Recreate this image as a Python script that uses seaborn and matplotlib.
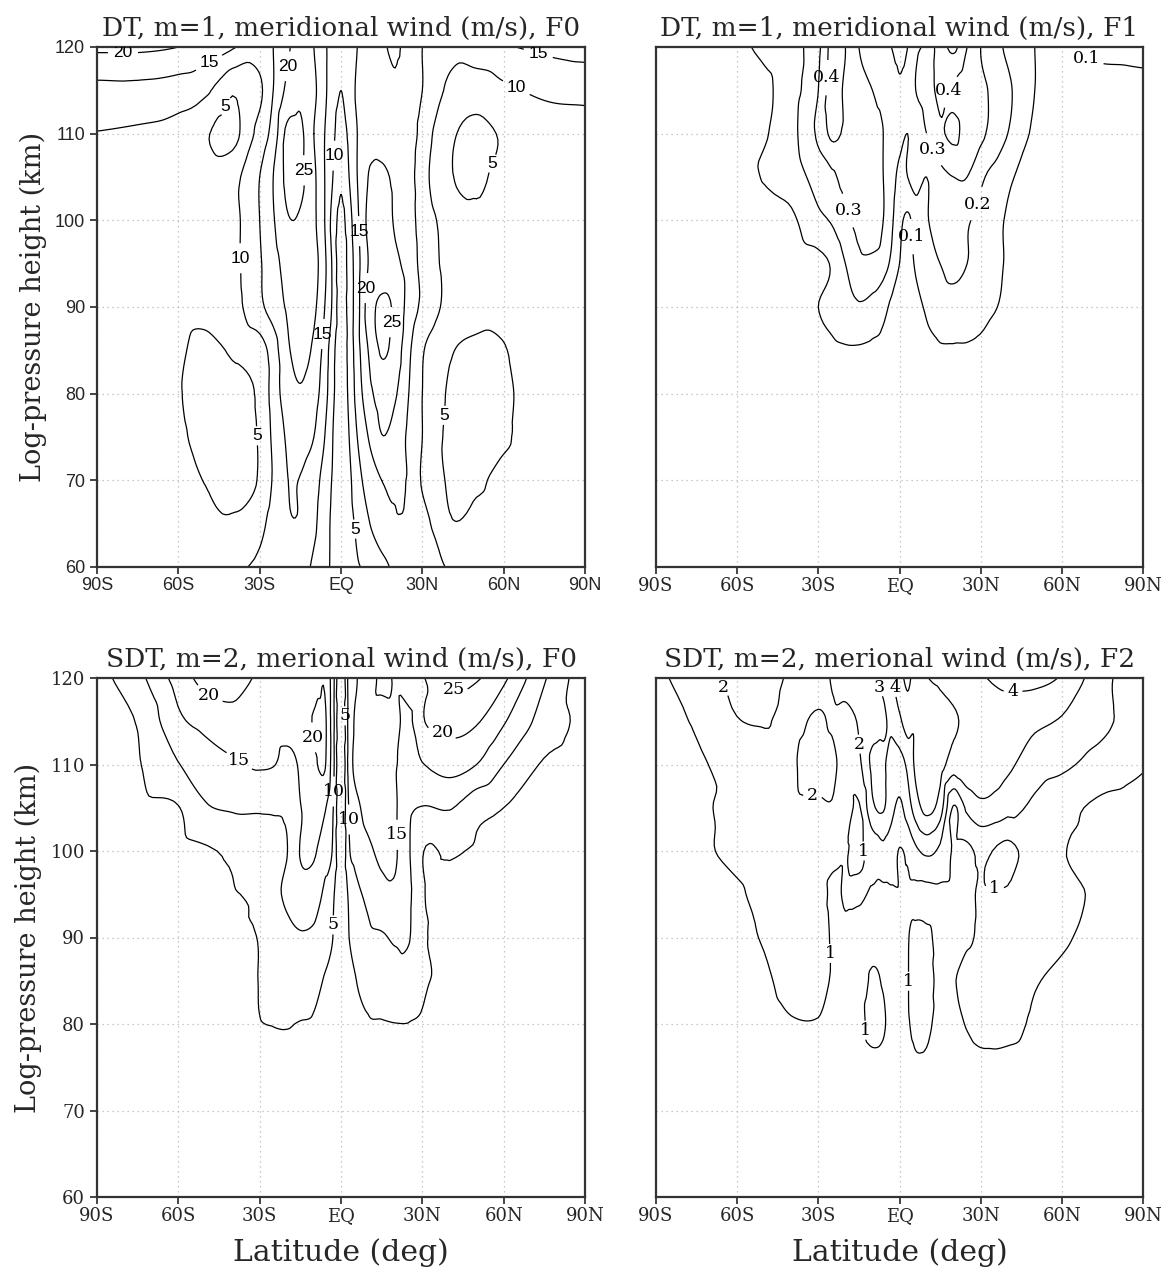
import numpy as np
import matplotlib
matplotlib.use("Agg")
import matplotlib.pyplot as plt
import matplotlib.tri as mtri
import seaborn as sns

# ---------------- data ----------------
lats = [-90, -75, -60, -50, -40, -30, -25, -20, -15, -10, -6, -3, 0,
        3, 6, 10, 15, 20, 25, 30, 40, 50, 60, 75, 90]
heights = [60, 65, 70, 75, 80, 85, 90, 95, 100, 105, 110, 115, 120]

# DT, m=1, meridional wind, F0 (rows: 60 km ... 120 km)
dt_f0 = [
    [7, 7, 7, 7.5, 9, 11, 12, 13, 12.5, 9, 6.5, 4, 2, 3, 4.5, 6, 8.5, 11, 13, 12.5, 9.5, 8, 7, 7, 7],
    [7, 7, 6.5, 6, 5.5, 8.5, 12, 14.5, 14.5, 11, 7, 4, 2, 3.5, 6, 9.5, 13, 14.5, 14.5, 12, 5.5, 6, 6.5, 7, 7],
    [7, 7.5, 6, 4.9, 4, 5.5, 10.5, 14.8, 14.8, 12, 8, 4.5, 2, 4, 8, 12, 15, 15.5, 14.5, 9.5, 4.5, 4.5, 6, 7.5, 7],
    [7, 7.5, 5.5, 4.2, 4, 5.5, 11, 15.5, 17, 15, 10, 5, 2, 5, 10, 15, 19.8, 18, 14, 10, 4, 4, 4.5, 7.5, 7],
    [7, 7.5, 5.2, 4, 4, 6, 12, 17.5, 19.5, 17, 12, 6, 2, 6, 12, 18, 22, 20.5, 15, 10, 4.5, 4, 4.3, 7.5, 7],
    [7, 7.5, 5.5, 4.2, 5.5, 7.5, 12.5, 19, 21.5, 19, 13, 6.5, 2, 6.5, 13, 20, 25.5, 23, 16, 10.5, 5.5, 4.2, 4.8, 7.5, 7],
    [7, 7, 6, 6, 8, 14, 17, 20.5, 23, 21, 15, 9, 2, 7, 13, 22, 26, 24, 18, 14, 8.5, 6.5, 6, 6.5, 7],
    [7, 7, 6, 6, 8.5, 14.5, 18, 22, 24.5, 22, 16, 9, 2, 7, 13, 20, 22, 21, 18, 13.5, 8.5, 6, 6, 7, 7.5],
    [7, 7, 6.5, 6, 8.5, 15, 19.5, 24.5, 24.5, 21, 15, 8, 3.5, 8, 14, 21, 22, 19.5, 17, 13, 8, 5.5, 6, 7, 7.5],
    [7, 7, 7, 7, 8.5, 15, 20, 26, 26, 21, 15, 10, 6, 10, 15, 20, 21, 19, 17, 12, 5.5, 4.5, 6, 7, 7.5],
    [9.8, 9.3, 8.5, 5.5, 3.5, 12, 17, 26, 26, 20, 15, 11, 8, 11, 15, 19, 18, 17, 18, 13, 6, 4, 5.5, 7.5, 8],
    [13.5, 13.5, 12.5, 11, 5.5, 9, 15, 21, 24, 21, 16, 12, 10, 12, 16, 19, 17, 16, 18, 15, 9, 7, 9, 11, 11.5],
    [21, 21, 20, 18, 15.5, 13, 15, 19, 22, 20, 16, 12, 10, 12, 15, 18, 16, 14, 17, 15, 12, 13.5, 14.5, 16, 17],
]

# DT, m=1, meridional wind, F1
dt_f1 = [
    [0] * 25,
    [0] * 25,
    [0] * 25,
    [0, 0, 0, 0, 0, 0.01, 0.02, 0.02, 0.02, 0.02, 0.02, 0.01, 0.01, 0.01, 0.01, 0.02, 0.02, 0.02, 0.02, 0.02, 0.01, 0, 0, 0, 0],
    [0, 0, 0, 0, 0, 0.02, 0.04, 0.05, 0.05, 0.05, 0.04, 0.03, 0.02, 0.02, 0.03, 0.04, 0.05, 0.05, 0.05, 0.04, 0.02, 0, 0, 0, 0],
    [0, 0, 0, 0, 0.01, 0.05, 0.08, 0.09, 0.09, 0.08, 0.07, 0.05, 0.03, 0.04, 0.06, 0.08, 0.09, 0.09, 0.09, 0.08, 0.04, 0.01, 0, 0, 0],
    [0, 0, 0, 0, 0.02, 0.1, 0.13, 0.17, 0.19, 0.17, 0.13, 0.08, 0.04, 0.06, 0.08, 0.11, 0.16, 0.17, 0.15, 0.13, 0.08, 0.02, 0, 0, 0],
    [0, 0, 0, 0, 0.04, 0.07, 0.11, 0.2, 0.27, 0.27, 0.24, 0.18, 0.1, 0.07, 0.11, 0.16, 0.2, 0.22, 0.2, 0.16, 0.09, 0.03, 0, 0, 0],
    [0, 0, 0, 0.02, 0.08, 0.18, 0.21, 0.28, 0.33, 0.38, 0.3, 0.22, 0.13, 0.08, 0.14, 0.19, 0.25, 0.24, 0.21, 0.17, 0.09, 0.03, 0, 0, 0],
    [0, 0, 0.03, 0.11, 0.15, 0.24, 0.28, 0.33, 0.32, 0.36, 0.3, 0.24, 0.18, 0.2, 0.24, 0.2, 0.27, 0.3, 0.3, 0.22, 0.12, 0.05, 0.01, 0, 0],
    [0, 0.01, 0.05, 0.09, 0.17, 0.32, 0.42, 0.38, 0.31, 0.34, 0.3, 0.26, 0.22, 0.2, 0.22, 0.3, 0.38, 0.42, 0.36, 0.32, 0.2, 0.08, 0.02, 0, 0],
    [0, 0.02, 0.06, 0.08, 0.16, 0.3, 0.45, 0.38, 0.32, 0.3, 0.27, 0.28, 0.22, 0.25, 0.3, 0.35, 0.42, 0.38, 0.33, 0.32, 0.22, 0.1, 0.05, 0.05, 0.06],
    [0, 0.03, 0.08, 0.12, 0.16, 0.28, 0.43, 0.4, 0.3, 0.28, 0.25, 0.2, 0.15, 0.2, 0.28, 0.32, 0.45, 0.52, 0.4, 0.3, 0.18, 0.1, 0.08, 0.13, 0.14],
]

# SDT, m=2, meridional wind, F0
sdt_f0 = [
    [0.5, 0.5, 1, 1.5, 2, 3, 3.5, 3.5, 3.5, 3, 2, 1, 0, 1, 2, 3, 3.5, 3.5, 3.5, 3, 2, 1.5, 1, 0.5, 0.5],
    [0.5, 0.8, 1.2, 1.8, 2.5, 3.5, 4, 4, 4, 3.5, 2.5, 1.2, 0, 1.2, 2.5, 3.5, 4, 4, 4, 3.5, 2.5, 1.8, 1.2, 0.8, 0.5],
    [0.7, 1, 1.5, 2, 3, 4, 4.3, 4.4, 4.3, 4, 3, 1.5, 0, 1.5, 3, 4, 4.3, 4.4, 4.3, 4, 3, 2, 1.5, 1, 0.7],
    [1, 1.3, 1.8, 2.3, 3.3, 4.4, 4.7, 4.8, 4.7, 4.5, 3.5, 1.8, 0, 1.8, 3.5, 4.5, 4.7, 4.8, 4.7, 4.4, 3.3, 2.3, 1.8, 1.3, 1],
    [1.2, 1.6, 2.2, 2.8, 3.8, 4.9, 5.05, 5.1, 4.9, 4.7, 3.8, 2, 0, 2, 3.8, 4.7, 4.8, 4.95, 4.95, 4.8, 3.8, 2.8, 2.2, 1.6, 1.2],
    [1.5, 2, 2.6, 3.2, 4.2, 5.1, 6.5, 7, 7, 6.2, 4.6, 2.5, 0, 2.5, 5.2, 6.5, 7.5, 8, 7.5, 5.6, 4.2, 3.2, 2.6, 2, 1.5],
    [2, 2.5, 3, 3.6, 4.5, 5.2, 7, 8.5, 9.5, 9, 7.5, 5, 0, 5, 7.5, 9, 9.5, 10.5, 10.3, 5.8, 4.3, 3.6, 3, 2.5, 2],
    [2.5, 3, 3.6, 4.2, 4.8, 6, 8.5, 11, 13, 12.5, 9, 6, 0, 6, 9, 11, 13.5, 14, 11, 5.5, 4.3, 3.7, 3.2, 2.8, 2.5],
    [2.8, 3.3, 3.8, 4.5, 5.8, 7.5, 8.5, 9.8, 15.2, 15.6, 12, 9.5, 0, 9.5, 12, 14, 16, 15.5, 10.5, 5.2, 5.5, 4.5, 3.8, 3.3, 2.8],
    [3.3, 4, 4.8, 9.5, 10.5, 10.5, 10.5, 11, 14.8, 17, 15.5, 10.5, 0, 10.5, 14, 16.5, 17, 15.5, 11, 9.8, 10.3, 6.5, 5, 4, 3],
    [4, 4.7, 9.8, 12.5, 14.3, 15.5, 15.2, 14, 15.5, 19, 20.5, 12, 0, 12, 17, 16, 17, 15.3, 13.5, 14.8, 17, 15, 10, 4.5, 3],
    [3.5, 5.3, 14, 16.5, 18, 17, 16.5, 16, 15.8, 20.5, 21, 12, 0, 12, 16, 16.5, 17, 16, 14, 19.5, 21.5, 20.5, 15.5, 8, 3.5],
    [3.5, 8.5, 17, 22, 23, 19, 18, 16.5, 15.5, 17, 19.5, 12, 0, 12, 15, 17, 14, 15.5, 18, 19.5, 26, 25.5, 21, 10.5, 2],
]

# SDT, m=2, meridional wind, F2
sdt_f2 = [
    [0.2, 0.25, 0.3, 0.3, 0.3, 0.35, 0.35, 0.35, 0.35, 0.4, 0.4, 0.35, 0.3, 0.35, 0.4, 0.4, 0.35, 0.35, 0.35, 0.4, 0.4, 0.35, 0.3, 0.25, 0.2],
    [0.25, 0.3, 0.35, 0.4, 0.45, 0.5, 0.5, 0.5, 0.5, 0.5, 0.5, 0.45, 0.4, 0.45, 0.5, 0.5, 0.5, 0.5, 0.5, 0.55, 0.55, 0.45, 0.35, 0.3, 0.25],
    [0.3, 0.35, 0.45, 0.5, 0.6, 0.65, 0.65, 0.6, 0.6, 0.7, 0.65, 0.5, 0.45, 0.55, 0.7, 0.7, 0.6, 0.6, 0.65, 0.7, 0.7, 0.6, 0.45, 0.35, 0.3],
    [0.3, 0.4, 0.5, 0.6, 0.7, 0.8, 0.8, 0.7, 0.7, 0.8, 0.75, 0.55, 0.45, 0.6, 0.85, 0.85, 0.6, 0.6, 0.7, 0.8, 0.8, 0.7, 0.5, 0.4, 0.3],
    [0.4, 0.5, 0.6, 0.75, 0.95, 0.97, 0.9, 0.7, 0.8, 1.2, 1.1, 0.7, 0.6, 0.9, 1.25, 1.2, 0.7, 0.8, 1.05, 1.25, 1.2, 0.9, 0.7, 0.5, 0.4],
    [0.45, 0.55, 0.7, 0.9, 1.2, 1.2, 0.95, 0.7, 0.8, 1.05, 0.95, 0.7, 0.6, 0.95, 1.4, 1.3, 0.8, 0.95, 1.3, 1.4, 1.3, 1.05, 0.85, 0.6, 0.45],
    [0.5, 0.65, 0.85, 1.05, 1.3, 1.3, 0.95, 0.9, 0.85, 0.9, 0.85, 0.75, 0.6, 0.95, 1.2, 1.15, 0.8, 0.85, 0.9, 1.1, 1.4, 1.35, 1.1, 0.75, 0.5],
    [0.55, 0.75, 0.9, 1.25, 1.5, 1.3, 0.9, 1.05, 1.05, 0.95, 0.85, 0.9, 0.95, 0.85, 0.8, 0.75, 0.8, 0.85, 0.9, 1.05, 1.1, 1.6, 1.25, 0.85, 0.55],
    [0.6, 0.85, 1.2, 1.4, 1.45, 1.3, 1.2, 1.05, 0.9, 1.3, 1.7, 1.5, 0.95, 1.2, 1.8, 2.2, 1.8, 0.9, 0.8, 1.2, 0.7, 1.5, 1.05, 0.8, 0.6],
    [0.6, 0.8, 1.35, 1.6, 1.8, 1.8, 1.9, 1.5, 0.9, 2.8, 3.1, 2.3, 1.8, 2.5, 3.5, 4.3, 3.5, 0.9, 2.2, 2.7, 2.3, 1.8, 1.3, 0.8, 0.6],
    [0.6, 0.9, 1.3, 1.7, 1.9, 2.4, 2.3, 1.5, 1.8, 3.2, 3.2, 2.4, 2.6, 3.2, 4.2, 4.6, 4.4, 3.5, 3.8, 3.9, 3.2, 2.5, 2.2, 1.6, 1.1],
    [0.7, 1.1, 1.95, 2.05, 1.8, 2.1, 1.9, 1.6, 2.1, 2.6, 2.8, 3.3, 3.8, 4.5, 4.2, 4.8, 4.5, 4.1, 3.9, 3.7, 3.5, 3.2, 2.9, 2.2, 1.5],
    [0.8, 1.5, 2.3, 2.3, 1.9, 1.8, 2.05, 2.5, 2.7, 2.9, 3.3, 3.8, 4.6, 5.2, 4.5, 4.05, 3.8, 3.7, 3.9, 3.95, 4.3, 4.3, 3.9, 2.3, 1.2],
]

titles = ["DT, m=1, meridional wind (m/s), F0",
          "DT, m=1, meridional wind (m/s), F1",
          "SDT, m=2, merional wind (m/s), F0",
          "SDT, m=2, merional wind (m/s), F2"]
levels_list = [[5, 10, 15, 20, 25, 30],
               [0.1, 0.2, 0.3, 0.4, 0.5],
               [5, 10, 15, 20, 25, 30],
               [1, 2, 3, 4, 5]]
xtick_vals = [-90, -60, -30, 0, 30, 60, 90]
xtick_labels = ["90S", "60S", "30S", "EQ", "30N", "60N", "90N"]
ytick_vals = [60, 70, 80, 90, 100, 110, 120]

# ---------------- style ----------------
sns.set_theme(style="white")
plt.rcParams["font.family"] = ["DejaVu Serif"]
plt.rcParams["axes.edgecolor"] = "#333333"
plt.rcParams["axes.linewidth"] = 1.6

fig = plt.figure(figsize=(11.63, 12.71), dpi=100)
W, H = 1163.0, 1271.0
rects = [
    [97 / W, 1 - 567 / H, 488 / W, 520 / H],
    [656 / W, 1 - 567 / H, 487 / W, 520 / H],
    [97 / W, 1 - 1197 / H, 488 / W, 519 / H],
    [656 / W, 1 - 1197 / H, 487 / W, 519 / H],
]
fields = [dt_f0, dt_f1, sdt_f0, sdt_f2]
serif = "DejaVu Serif"
sans = "Liberation Sans"

LAT, HGT = np.meshgrid(np.array(lats, float), np.array(heights, float))
base_tri = mtri.Triangulation(LAT.ravel(), HGT.ravel())
refiner = mtri.UniformTriRefiner(base_tri)

for i, (rect, field, title, levels) in enumerate(zip(rects, fields, titles, levels_list)):
    ax = fig.add_axes(rect)
    Z = np.array(field, dtype=float).ravel()
    interp = mtri.CubicTriInterpolator(base_tri, Z, kind="geom")
    tri_r, z_r = refiner.refine_field(Z, triinterpolator=interp, subdiv=3)
    cs = ax.tricontour(tri_r, z_r, levels=levels, colors="black",
                       linewidths=0.9)
    lab_font = sans if i == 0 else serif
    labels = ax.clabel(cs, inline=True, inline_spacing=4, fontsize=12.5,
                       fmt=lambda v: ("%g" % v))
    for t in labels:
        t.set_fontfamily(lab_font)
        t.set_rotation(0)
    ax.set_xlim(-90, 90)
    ax.set_ylim(60, 120)
    ax.set_xticks(xtick_vals)
    ax.set_yticks(ytick_vals)
    ax.grid(True, color="#b8b8b8", linestyle=(0, (1, 3)), linewidth=0.9)
    ax.set_title(title, fontsize=19, family=serif, pad=8)
    tick_font = sans if i == 0 else serif
    ax.set_xticklabels(xtick_labels, fontsize=13, family=tick_font)
    if i in (0, 2):
        ax.set_yticklabels([str(v) for v in ytick_vals], fontsize=13, family=tick_font)
        ax.set_ylabel("Log-pressure height (km)", fontsize=19.5, family=serif, labelpad=6)
        ax.tick_params(axis="y", length=5, width=1.2, direction="out", left=True)
    else:
        ax.set_yticklabels([])
        ax.tick_params(axis="y", length=0)
    ax.tick_params(axis="x", length=5, width=1.2, direction="out", bottom=True, pad=2)
    if i in (2, 3):
        ax.set_xlabel("Latitude (deg)", fontsize=21.5, family=serif, labelpad=10)

fig.savefig("out.png", dpi=100)
